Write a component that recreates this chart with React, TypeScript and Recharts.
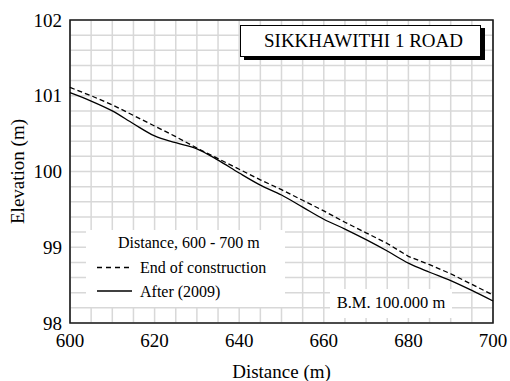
import React from 'react';
import {
  LineChart,
  Line,
  XAxis,
  YAxis,
  CartesianGrid,
  ReferenceArea,
  Legend,
} from 'recharts';

// Road profile, Sikkhawithi 1 Road, chainage 600 - 700 m
const distance = [
  600, 605, 610, 615, 620, 625, 630, 635, 640, 645, 650,
  655, 660, 665, 670, 675, 680, 685, 690, 695, 700,
];
const endOfConstruction = [
  101.11, 101.0, 100.88, 100.74, 100.6, 100.46, 100.31, 100.17, 100.03, 99.89, 99.76,
  99.62, 99.48, 99.33, 99.19, 99.05, 98.88, 98.77, 98.65, 98.51, 98.37,
];
const after2009 = [
  101.04, 100.93, 100.8, 100.63, 100.47, 100.38, 100.3, 100.15, 99.98, 99.82, 99.69,
  99.53, 99.37, 99.24, 99.1, 98.95, 98.79, 98.67, 98.56, 98.43, 98.29,
];

// Grid ticks (every 5 m / 0.2 m) and the ones that carry a label
const xTicks = [
  600, 605, 610, 615, 620, 625, 630, 635, 640, 645, 650,
  655, 660, 665, 670, 675, 680, 685, 690, 695, 700,
];
const xLabelTicks = [600, 620, 640, 660, 680, 700];
const yTicks = [
  98, 98.2, 98.4, 98.6, 98.8, 99, 99.2, 99.4, 99.6, 99.8, 100,
  100.2, 100.4, 100.6, 100.8, 101, 101.2, 101.4, 101.6, 101.8, 102,
];
const yLabelTicks = [98, 99, 100, 101, 102];

const titleText = 'SIKKHAWITHI 1 ROAD';
const rangeText = 'Distance, 600 - 700 m';
const benchMarkText = 'B.M. 100.000 m';
const seriesNames = { end: 'End of construction', after: 'After (2009)' };

const data = distance.map((d, i) => ({
  distance: d,
  end: endOfConstruction[i],
  after: after2009[i],
}));

const FONT = "'Liberation Serif', serif";

const fmtX = (v: number) => (xLabelTicks.includes(v) ? String(v) : '');
const fmtY = (v: number) =>
  yLabelTicks.some((t) => Math.abs(t - v) < 1e-6) ? String(Math.round(v)) : '';

const legendText = { fontFamily: FONT, fontSize: 16 };

const LegendBox = () => (
  <svg width={199} height={77} style={{ display: 'block' }}>
    <rect x={0} y={0} width={199} height={77} fill="#fff" />
    <text x={32} y={18} fontFamily="Liberation Serif" style={legendText} fill="#000">
      {rangeText}
    </text>
    <line x1={11} x2={46} y1={37.5} y2={37.5} stroke="#000" strokeWidth={1.3} strokeDasharray="5 4" />
    <text x={54} y={43} fontFamily="Liberation Serif" style={legendText} fill="#000">
      {seriesNames.end}
    </text>
    <line x1={11} x2={46} y1={61} y2={61} stroke="#000" strokeWidth={1.3} />
    <text x={54} y={67} fontFamily="Liberation Serif" style={legendText} fill="#000">
      {seriesNames.after}
    </text>
  </svg>
);

const tickStyle = { fontFamily: 'Liberation Serif', fontSize: 19, fill: '#000' };
const labelStyle = { fontFamily: FONT, fontSize: 19, fill: '#000' };

export default function App() {
  return (
    <div
      style={{
        position: 'absolute',
        left: 0,
        top: 0,
        width: 510,
        height: 381,
        background: '#fff',
        fontFamily: FONT,
      }}
    >
      <LineChart
        width={510}
        height={381}
        data={data}
        margin={{ top: 20, right: 17, left: 0, bottom: 0 }}
        style={{ fontFamily: FONT }}
      >
        <CartesianGrid stroke="#d8d8d8" strokeWidth={1.5} />
        <XAxis
          dataKey="distance"
          type="number"
          domain={[600, 700]}
          ticks={xTicks}
          interval={0}
          tickFormatter={fmtX}
          tickLine={false}
          axisLine={false}
          tickMargin={5}
          height={58}
          tick={tickStyle}
          label={{
            value: 'Distance (m)',
            position: 'insideBottom',
            offset: 3,
            fontFamily: 'Liberation Serif',
            style: labelStyle,
          }}
        />
        <YAxis
          type="number"
          domain={[98, 102]}
          ticks={yTicks}
          interval={0}
          tickFormatter={fmtY}
          tickLine={false}
          axisLine={false}
          width={70}
          tick={tickStyle}
          label={{
            value: 'Elevation (m)',
            angle: -90,
            position: 'insideLeft',
            offset: 17,
            fontFamily: 'Liberation Serif',
            style: { ...labelStyle, textAnchor: 'middle' },
          }}
        />
        <ReferenceArea
          x1={600}
          x2={700}
          y1={98}
          y2={102}
          fill="none"
          fillOpacity={0}
          stroke="#1a1a1a"
          strokeWidth={1.6}
        />
        <Legend
          layout="horizontal"
          verticalAlign="middle"
          align="center"
          wrapperStyle={{ left: 86, top: 230, width: 199, height: 77 }}
          content={() => <LegendBox />}
        />
        <Line
          type="linear"
          dataKey="end"
          name={seriesNames.end}
          stroke="#000"
          strokeWidth={1.3}
          strokeDasharray="5 3"
          dot={false}
          isAnimationActive={false}
        />
        <Line
          type="monotone"
          dataKey="after"
          name={seriesNames.after}
          stroke="#000"
          strokeWidth={1.3}
          dot={false}
          isAnimationActive={false}
        />
      </LineChart>

      <div
        style={{
          position: 'absolute',
          left: 240,
          top: 25,
          width: 241,
          height: 32,
          boxSizing: 'border-box',
          border: '1px solid #000',
          boxShadow: '4px 3px 0 #000',
          background: '#fff',
          textAlign: 'center',
          lineHeight: '30px',
          fontFamily: FONT,
          fontSize: 19,
          paddingLeft: 6,
          color: '#000',
          whiteSpace: 'nowrap',
        }}
      >
        {titleText}
      </div>

      <div
        style={{
          position: 'absolute',
          left: 330,
          top: 289,
          width: 122,
          height: 29,
          background: '#fff',
          textAlign: 'center',
          lineHeight: '27px',
          fontFamily: FONT,
          fontSize: 16.5,
          color: '#000',
          whiteSpace: 'nowrap',
        }}
      >
        {benchMarkText}
      </div>
    </div>
  );
}
